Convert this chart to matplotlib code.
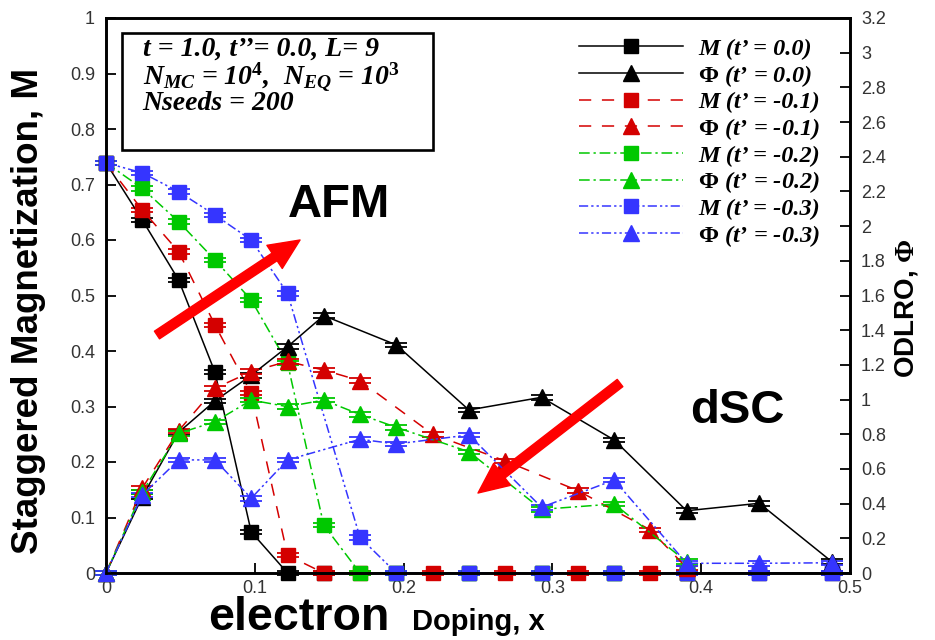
import matplotlib
matplotlib.use("Agg")
import matplotlib.pyplot as plt
from matplotlib.lines import Line2D
from matplotlib.patches import Rectangle, ArrowStyle
from matplotlib.font_manager import FontProperties
from matplotlib.ticker import FuncFormatter

plt.rcParams.update({
    "font.family": "Liberation Sans",
    "mathtext.fontset": "custom",
    "mathtext.rm": "Liberation Serif:bold",
    "mathtext.it": "Liberation Serif:bold:italic",
    "mathtext.bf": "Liberation Serif:bold",
})

# ---- data: electron doping x, staggered magnetization M, ODLRO Phi ----
# t' = 0.0
x_t00 = [0.0, 0.0244, 0.0488, 0.0732, 0.0976, 0.1220, 0.1463, 0.1951, 0.2439,
         0.2927, 0.3415, 0.3902, 0.4390, 0.4878]
M_t00 = [0.739, 0.636, 0.528, 0.362, 0.074, 0.0, 0.0, 0.0, 0.0,
         0.0, 0.0, 0.0, 0.0, 0.0]
Phi_t00 = [0.0, 0.44, 0.811, 0.992, 1.14, 1.305, 1.484, 1.315, 0.940,
           1.013, 0.767, 0.359, 0.402, 0.065]

# t' = -0.1
x_t01 = [0.0, 0.0244, 0.0488, 0.0732, 0.0976, 0.1220, 0.1463, 0.1707, 0.2195,
         0.2683, 0.3171, 0.3659, 0.3902]
M_t01 = [0.739, 0.654, 0.579, 0.447, 0.324, 0.032, 0.0, 0.0, 0.0,
         0.0, 0.0, 0.0, 0.0]
Phi_t01 = [0.0, 0.49, 0.82, 1.065, 1.161, 1.22, 1.170, 1.109, 0.800,
           0.646, 0.475, 0.248, 0.03]

# t' = -0.2
x_t02 = [0.0, 0.0244, 0.0488, 0.0732, 0.0976, 0.1220, 0.1463, 0.1707, 0.1951,
         0.2439, 0.2927, 0.3415, 0.3902]
M_t02 = [0.739, 0.693, 0.633, 0.564, 0.492, 0.378, 0.0865, 0.0, 0.0,
         0.0, 0.0, 0.0, 0.0]
Phi_t02 = [0.0, 0.467, 0.805, 0.872, 0.997, 0.959, 0.997, 0.914, 0.840,
           0.699, 0.367, 0.398, 0.065]

# t' = -0.3
x_t03 = [0.0, 0.0244, 0.0488, 0.0732, 0.0976, 0.1220, 0.1707, 0.1951, 0.2439,
         0.2927, 0.3415, 0.3902, 0.4390, 0.4878]
M_t03 = [0.739, 0.721, 0.687, 0.645, 0.600, 0.504, 0.064, 0.0, 0.0,
         0.0, 0.0, 0.0, 0.0, 0.0]
Phi_t03 = [0.0, 0.450, 0.652, 0.652, 0.431, 0.652, 0.771, 0.744, 0.796,
           0.379, 0.536, 0.056, 0.056, 0.059]

M_ERR = 0.004
PHI_ERR = 0.013

t_labels = ["0.0", "-0.1", "-0.2", "-0.3"]
x_ticks = [0, 0.1, 0.2, 0.3, 0.4, 0.5]
m_ticks = [0, 0.1, 0.2, 0.3, 0.4, 0.5, 0.6, 0.7, 0.8, 0.9, 1.0]
phi_ticks = [0, 0.2, 0.4, 0.6, 0.8, 1.0, 1.2, 1.4, 1.6, 1.8, 2.0, 2.2, 2.4,
             2.6, 2.8, 3.0, 3.2]

series = [
    (x_t00, M_t00, Phi_t00),
    (x_t01, M_t01, Phi_t01),
    (x_t02, M_t02, Phi_t02),
    (x_t03, M_t03, Phi_t03),
]
colors = ["#000000", "#d40000", "#00c800", "#3535ff"]
linestyles = ["-", (0, (8, 7)), (0, (7, 2.5, 1.5, 2.5)),
              (0, (6, 2, 1.5, 2, 1.5, 2))]

W, H = 935, 640
fig = plt.figure(figsize=(W / 100, H / 100), dpi=100)
ax = fig.add_axes([106 / W, 67 / H, 744 / W, 555 / H])
ax2 = ax.twinx()

LW = 1.1
MS = 10.5
err_kw = dict(capsize=8, capthick=1.3, elinewidth=1.3, clip_on=False)

for (x, m, phi), c, ls in zip(series, colors, linestyles):
    ax.errorbar(x, m, yerr=M_ERR, color=c, ecolor=c, ls=ls, lw=LW,
                marker="s", ms=MS, mec=c, mfc=c, **err_kw)
    ax2.errorbar(x, phi, yerr=PHI_ERR, color=c, ecolor=c, ls=ls, lw=LW,
                 marker="^", ms=MS + 1, mec=c, mfc=c, **err_kw)

ax.set_xlim(0, 0.5)
ax.set_ylim(0, 1)
ax2.set_ylim(0, 3.2)
ax.set_xticks(x_ticks)
ax.set_yticks(m_ticks)
ax2.set_yticks(phi_ticks)
fmt = FuncFormatter(lambda v, p: f"{v:g}")
ax.xaxis.set_major_formatter(fmt)
ax.yaxis.set_major_formatter(fmt)
ax2.yaxis.set_major_formatter(fmt)

tick_kw = dict(direction="in", length=7, width=1.3, labelsize=13,
               labelcolor="#333333")
ax.tick_params(axis="x", top=False, pad=5, **tick_kw)
ax.tick_params(axis="y", right=False, pad=8, **tick_kw)
ax2.tick_params(axis="y", pad=8, **tick_kw)
for a in (ax, ax2):
    for s in a.spines.values():
        s.set_linewidth(1.9)

# axis titles
fig.text(29 / W, 1 - 311 / H, "Staggered Magnetization, M", rotation=90,
         ha="center", va="center", fontsize=26.5, fontweight="bold")
fig.text(907 / W, 1 - 308 / H, "ODLRO, $\\Phi$", rotation=90,
         ha="center", va="center", fontsize=20, fontweight="bold")
fig.text(208 / W, (H - 630) / H, "electron", fontsize=33.5, fontweight="bold",
         va="baseline", ha="left")
fig.text(412 / W, (H - 630) / H, "Doping, x", fontsize=21, fontweight="bold",
         va="baseline", ha="left")

# parameter box (baseline anchor refers to the last line)
serif_bi = FontProperties(family="Liberation Serif", style="italic",
                          weight="bold", size=20)
ax.add_patch(Rectangle((0.0215, 0.7622), 0.418, 0.2108, transform=ax.transAxes,
                       fill=False, lw=1.9, ec="black", zorder=5))
box_lines = [
    "t = 1.0, t\u2019\u2019= 0.0, L= 9",
    "$N_{MC}$ = 10$^{\\mathit{4}}$,  $N_{EQ}$ = 10$^{\\mathit{3}}$",
    "Nseeds = 200",
]
ax.text(0.0493, 0.8342, "\n".join(box_lines), transform=ax.transAxes,
        fontproperties=serif_bi, va="baseline", ha="left", linespacing=0.92)

# legend
handles, labels = [], []
for c, ls, t in zip(colors, linestyles, t_labels):
    handles.append(Line2D([], [], color=c, ls=ls, lw=LW, marker="s", ms=MS,
                          mec=c, mfc=c))
    labels.append(f"M (t\u2019 = {t})")
    handles.append(Line2D([], [], color=c, ls=ls, lw=LW, marker="^",
                          ms=MS + 1, mec=c, mfc=c))
    labels.append(f"$\\Phi$ (t\u2019 = {t})")
leg_font = FontProperties(family="Liberation Serif", style="italic",
                          weight="bold", size=17.5)
ax2.legend(handles, labels, loc="upper left", bbox_to_anchor=(0.636, 0.964),
           frameon=False, prop=leg_font, handlelength=4.28,
           handletextpad=0.62, labelspacing=0.11, borderpad=0,
           borderaxespad=0)

# phase annotations
ax2.text(0.2446, 0.6414, "AFM", transform=ax.transAxes, fontsize=34,
         fontweight="bold", va="baseline")
ax2.text(0.785, 0.270, "dSC", transform=ax.transAxes, fontsize=34,
         fontweight="bold", va="baseline")
arrow = ArrowStyle("simple", head_length=1.1, head_width=1.0, tail_width=0.33)
for start, tip in [((0.0685, 0.4288), (0.2608, 0.600)),
                   ((0.6909, 0.3423), (0.500, 0.1441))]:
    ax2.annotate("", xy=tip, xytext=start, xycoords=ax.transAxes,
                 textcoords=ax.transAxes,
                 arrowprops=dict(arrowstyle=arrow, mutation_scale=20,
                                 color="#ff0000", shrinkA=0, shrinkB=0))

fig.savefig("out.png", dpi=100)
